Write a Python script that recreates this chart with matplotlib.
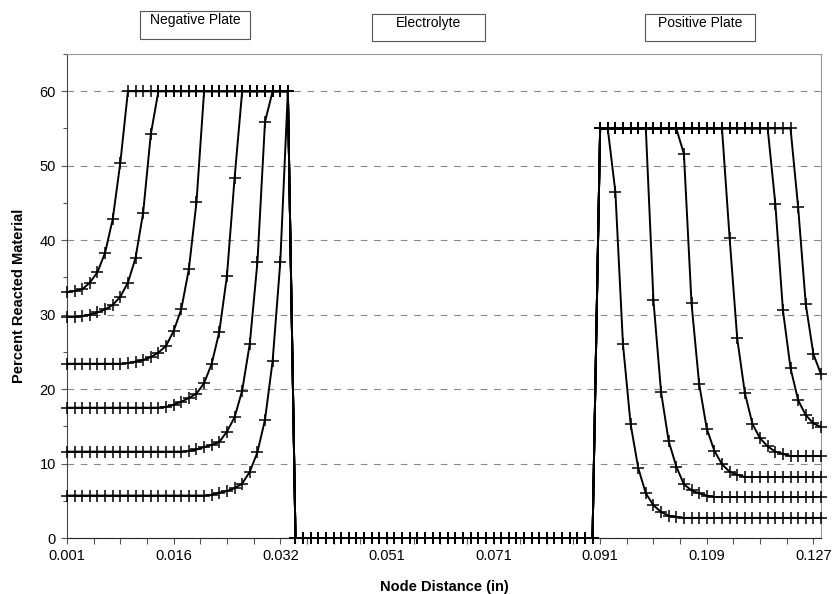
import matplotlib.pyplot as plt
from matplotlib.patches import Rectangle

plt.rcParams["font.family"] = ["Liberation Sans", "DejaVu Sans"]

# Percent reacted material per node, one list per time step
# negative plate nodes 0-29
neg_a = [33.0, 33.2, 33.4, 34.3, 35.7, 38.3, 42.8, 50.4, 60, 60,
         60, 60, 60, 60, 60, 60, 60, 60, 60, 60,
         60, 60, 60, 60, 60, 60, 60, 60, 60, 60]
neg_b = [29.7, 29.7, 29.8, 30.0, 30.3, 30.7, 31.3, 32.4, 34.3, 37.6,
         43.7, 54.2, 60, 60, 60, 60, 60, 60, 60, 60,
         60, 60, 60, 60, 60, 60, 60, 60, 60, 60]
neg_c = [23.4, 23.4, 23.4, 23.4, 23.4, 23.4, 23.4, 23.4, 23.5, 23.7,
         23.9, 24.3, 24.9, 25.8, 27.8, 30.7, 36.1, 45.1, 60, 60,
         60, 60, 60, 60, 60, 60, 60, 60, 60, 60]
neg_d = [17.5, 17.5, 17.5, 17.5, 17.5, 17.5, 17.5, 17.5, 17.5, 17.5,
         17.5, 17.5, 17.5, 17.6, 17.9, 18.3, 18.8, 19.4, 20.8, 23.4,
         27.7, 35.2, 48.3, 60, 60, 60, 60, 60, 60, 60]
neg_e = [11.6, 11.6, 11.6, 11.6, 11.6, 11.6, 11.6, 11.6, 11.6, 11.6,
         11.6, 11.6, 11.6, 11.6, 11.6, 11.6, 11.7, 11.9, 12.2, 12.5,
         12.9, 14.3, 16.2, 19.8, 26.1, 37.0, 55.9, 60, 60, 60]
neg_f = [5.7, 5.7, 5.7, 5.7, 5.7, 5.7, 5.7, 5.7, 5.7, 5.7,
         5.7, 5.7, 5.7, 5.7, 5.7, 5.7, 5.7, 5.7, 5.7, 5.8,
         6.1, 6.3, 6.7, 7.3, 8.9, 11.5, 15.9, 23.8, 37.0, 60]

# electrolyte nodes 30-69
electrolyte = [0] * 40

# positive plate nodes 70-99
pos_a = [55, 55, 55, 55, 55, 55, 55, 55, 55, 55,
         55, 55, 55, 55, 55, 55, 55, 55, 55, 55,
         55, 55, 55, 55, 55, 55, 44.4, 31.4, 24.7, 22.0]
pos_b = [55, 55, 55, 55, 55, 55, 55, 55, 55, 55,
         55, 55, 55, 55, 55, 55, 55, 55, 55, 55,
         55, 55, 55, 44.9, 30.6, 22.8, 18.5, 16.5, 15.4, 14.9]
pos_c = [55, 55, 55, 55, 55, 55, 55, 55, 55, 55,
         55, 55, 55, 55, 55, 55, 55, 40.3, 26.8, 19.5,
         15.3, 13.4, 12.3, 11.6, 11.3, 11.0, 11.0, 11.0, 11.0, 11.0]
pos_d = [55, 55, 55, 55, 55, 55, 55, 55, 55, 55,
         55, 51.6, 31.5, 20.7, 14.7, 11.7, 9.9, 8.9, 8.5, 8.2,
         8.2, 8.2, 8.2, 8.2, 8.2, 8.2, 8.2, 8.2, 8.2, 8.2]
pos_e = [55, 55, 55, 55, 55, 55, 55, 31.9, 19.6, 13.0,
         9.6, 7.2, 6.4, 6.0, 5.7, 5.5, 5.5, 5.5, 5.5, 5.5,
         5.5, 5.5, 5.5, 5.5, 5.5, 5.5, 5.5, 5.5, 5.5, 5.5]
pos_f = [55, 55, 46.5, 26.0, 15.3, 9.4, 6.0, 4.4, 3.5, 3.0,
         2.8, 2.7, 2.7, 2.7, 2.7, 2.7, 2.7, 2.7, 2.7, 2.7,
         2.7, 2.7, 2.7, 2.7, 2.7, 2.7, 2.7, 2.7, 2.7, 2.7]

negative = [neg_a, neg_b, neg_c, neg_d, neg_e, neg_f]
positive = [pos_a, pos_b, pos_c, pos_d, pos_e, pos_f]

tick_labels = ["0.001", "0.016", "0.032", "0.051", "0.071", "0.091", "0.109", "0.127"]
label_nodes = [0, 14, 28, 42, 56, 70, 84, 98]
region_names = ["Negative Plate", "Electrolyte", "Positive Plate"]

fig = plt.figure(figsize=(8.35, 5.94), dpi=100)
ax = fig.add_axes([67 / 835, 56 / 594, 754 / 835, 484 / 594])

for neg, pos in zip(negative, positive):
    y = neg + electrolyte + pos
    ax.plot(range(len(y)), y, color="black", lw=1.4, marker="+",
            markersize=9, markeredgewidth=1.1, zorder=3, clip_on=False)

ax.set_xlim(0, 99)
ax.set_ylim(0, 65)

# category style ticks: every 3.5 nodes, labels every 14
xt = [i * 3.5 for i in range(29)]
ax.set_xticks(xt)
ax.set_xticklabels([tick_labels[label_nodes.index(int(t))] if t in label_nodes else ""
                    for t in xt])
ax.set_yticks(range(0, 61, 10))
ax.set_yticks(range(5, 66, 10), minor=True)
ax.tick_params(axis="both", direction="out", length=4, width=0.8,
               color="#555555", labelsize=10.5, pad=4)
ax.tick_params(axis="y", which="minor", direction="out", length=3, width=0.8,
               color="#555555")

ax.grid(axis="y", which="major", color="#888888", linestyle=(0, (6, 6)), lw=0.8)
ax.set_axisbelow(True)
for side in ["top", "right"]:
    ax.spines[side].set_color("#999999")
    ax.spines[side].set_linewidth(0.8)
ax.spines["left"].set_color("#444444")
ax.spines["bottom"].set_color("#222222")

ax.set_xlabel("Node Distance (in)", fontsize=10.5, fontweight="bold", labelpad=12)
ax.set_ylabel("Percent Reacted Material", fontsize=10.5, fontweight="bold", labelpad=10)

# region boxes above the plot
boxes = [(140, 11, 110, 28), (372, 14, 113, 27), (645, 14, 110, 27)]
for name, (bx, by, bw, bh) in zip(region_names, boxes):
    fig.patches.append(Rectangle((bx / 835, 1 - (by + bh) / 594), bw / 835, bh / 594,
                                 transform=fig.transFigure, fill=False,
                                 edgecolor="#555555", lw=0.8))
    fig.text((bx + bw / 2) / 835, 1 - (by + 9) / 594, name, ha="center", va="center",
             fontsize=10, family=["Liberation Sans Narrow", "Liberation Sans"])

fig.savefig("out.png", dpi=100)
